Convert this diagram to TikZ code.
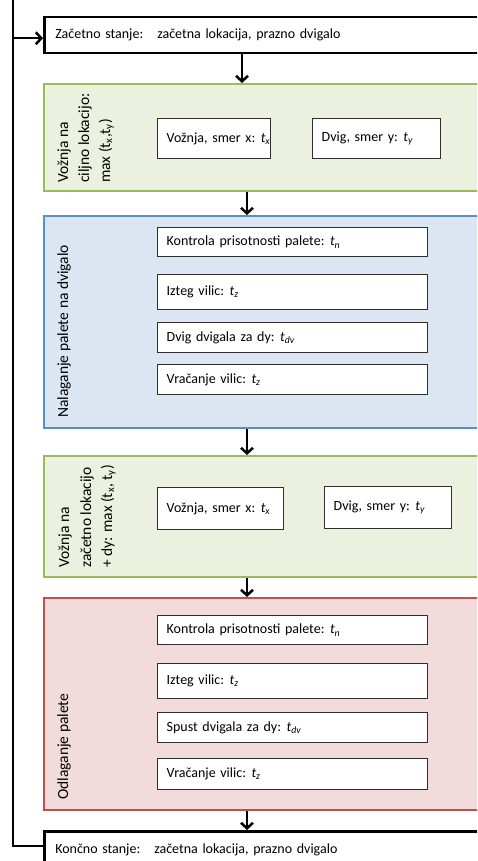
\documentclass[tikz,border=0pt]{standalone}
\usepackage{fontspec}
\setmainfont{Carlito}
\usetikzlibrary{arrows.meta}

\definecolor{grfill}{HTML}{EBF1DE}
\definecolor{grline}{HTML}{9BBB59}
\definecolor{blfill}{HTML}{DCE6F2}
\definecolor{blline}{HTML}{558ED5}
\definecolor{rdfill}{HTML}{F2DCDB}
\definecolor{rdline}{HTML}{C0504D}
\definecolor{boxline}{HTML}{2E2E2E}

% italic t with an italic subscript
\newcommand{\tix}[1]{\kern-1.5pt\textit{t}\textsubscript{\itshape #1}}
% upright t with a subscript
\newcommand{\tup}[1]{t\textsubscript{#1}}

\begin{document}
\begin{tikzpicture}[x=1pt,y=-1pt,
  every node/.style={font=\fontsize{14}{17}\selectfont},
  statebox/.style={draw=black, line width=2.5pt, fill=white, anchor=north west,
    inner xsep=11pt, inner ysep=0pt, align=left},
  phase/.style={line width=2.2pt, anchor=north west, inner sep=0pt},
  taskbox/.style={draw=boxline, line width=1.3pt, fill=white, anchor=north west,
    inner xsep=9pt, inner ysep=0pt, align=left},
  vlabel/.style={rotate=90, anchor=base west, inner sep=0pt,
    font=\fontsize{15.5}{18}\selectfont},
  arr/.style={line width=2.5pt, -{Straight Barb[length=5.5pt,width=12pt,line width=2.5pt]}}
]
\useasboundingbox (0,0) rectangle (477,861);
\clip (0,0) rectangle (477,861);

% start and end states
\node[statebox, minimum height=36pt, text width=425pt] (start) at (43,16)
  {Začetno stanje:\ \ \ začetna lokacija, prazno dvigalo};
\node[statebox, minimum height=37pt, text width=425pt] (end) at (43,830)
  {Končno stanje:\ \ \ začetna lokacija, prazno dvigalo};

% phases
\node[phase, draw=grline, fill=grfill, minimum width=447pt, minimum height=107pt] (drive1) at (43,83) {};
\node[phase, draw=blline, fill=blfill, minimum width=447pt, minimum height=212pt] (load) at (43,215) {};
\node[phase, draw=grline, fill=grfill, minimum width=447pt, minimum height=121pt] (drive2) at (43,455) {};
\node[phase, draw=rdline, fill=rdfill, minimum width=447pt, minimum height=212pt] (unload) at (43,597) {};

% phase titles
\node[vlabel] (d1a) at (68,183) {Vožnja na};
\node[vlabel] (d1b) at (89,183) {ciljno lokacijo:};
\node[vlabel] (d1c) at (110,183) {max (\tup{x},\tup{y})};
\node[vlabel] (lda) at (68,418) {Nalaganje palete na dvigalo};
\node[vlabel] (d2a) at (69,568) {Vožnja na};
\node[vlabel] (d2b) at (91,568) {začetno lokacijo};
\node[vlabel] (d2c) at (112,568) {+ dy: max (\tup{x}, \tup{y})};
\node[vlabel] (ula) at (68,800) {Odlaganje palete};

% tasks of the first drive
\node[taskbox, minimum height=40pt, text width=95pt] (d1x) at (157,118) {\mbox{Vožnja, smer x: \tix{x}}};
\node[taskbox, minimum height=40pt, text width=110pt] (d1y) at (312,118) {\mbox{Dvig, smer y: \tix{y}}};

% tasks of loading
\node[taskbox, minimum height=29pt, text width=252pt] (l1) at (157,227) {Kontrola prisotnosti palete: \tix{n}};
\node[taskbox, minimum height=35pt, text width=252pt] (l2) at (157,274) {Izteg vilic: \tix{z}};
\node[taskbox, minimum height=30pt, text width=252pt] (l3) at (157,322) {Dvig dvigala za dy: \tix{dv}};
\node[taskbox, minimum height=30pt, text width=252pt] (l4) at (157,364) {Vračanje vilic: \tix{z}};

% tasks of the return drive
\node[taskbox, minimum height=42pt, text width=108pt] (d2x) at (157,487) {\mbox{Vožnja, smer x: \tix{x}}};
\node[taskbox, minimum height=42pt, text width=109pt] (d2y) at (324,486) {\mbox{Dvig, smer y: \tix{y}}};

% tasks of unloading
\node[taskbox, minimum height=29pt, text width=252pt] (u1) at (157,615) {Kontrola prisotnosti palete: \tix{n}};
\node[taskbox, minimum height=35pt, text width=252pt] (u2) at (157,663) {Izteg vilic: \tix{z}};
\node[taskbox, minimum height=30pt, text width=252pt] (u3) at (157,712) {Spust dvigala za dy: \tix{dv}};
\node[taskbox, minimum height=31pt, text width=252pt] (u4) at (157,758) {Vračanje vilic: \tix{z}};

% flow between the stages
\coordinate (ax0) at (242,0);
\coordinate (ax) at (247,0);
\draw[arr] (start.south -| ax0) -- (drive1.north -| ax0);
\draw[arr] (drive1.south -| ax) -- (load.north -| ax);
\draw[arr] (load.south -| ax) -- (drive2.north -| ax);
\draw[arr] (drive2.south -| ax) -- (unload.north -| ax);
\draw[arr] (unload.south -| ax) -- (end.north -| ax);

% return loop
\coordinate (loopx) at (13,0);
\draw[arr] ([yshift=-16pt]end.north west) -| (loopx) |- ([yshift=-3pt]start.west);
\end{tikzpicture}
\end{document}
